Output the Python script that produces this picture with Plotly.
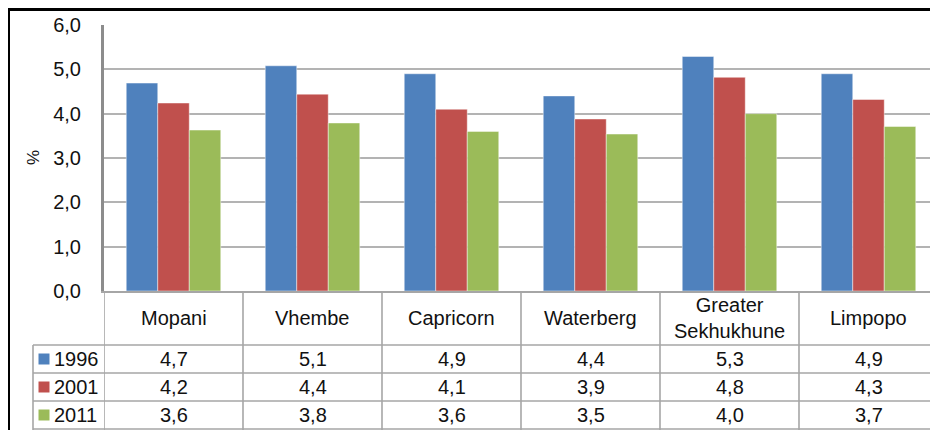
import plotly.graph_objects as go

categories = ["Mopani", "Vhembe", "Capricorn", "Waterberg", "Greater Sekhukhune", "Limpopo"]
header_labels = ["Mopani", "Vhembe", "Capricorn", "Waterberg", "Greater<br>Sekhukhune", "Limpopo"]
years = ["1996", "2001", "2011"]
values_1996 = [4.69, 5.08, 4.90, 4.40, 5.29, 4.90]
values_2001 = [4.24, 4.44, 4.10, 3.88, 4.82, 4.32]
values_2011 = [3.63, 3.79, 3.60, 3.54, 4.00, 3.71]
series = [values_1996, values_2001, values_2011]
colors = ["#4F81BD", "#C0504D", "#9BBB59"]

FONT = "Arial, Liberation Sans, sans-serif"
TXT = "#111111"

# the page body has an 8px margin; work in page pixel coordinates
OFF = 8
W, H = 938 - OFF, 430 - OFF
PL, PR, PT, PB = 104, 938, 25, 291          # plot area in page pixels
PW, PH = PR - PL, PB - PT

def px(x):
    return (x - PL) / PW

def py(y):
    return (PB - y) / PH

fig = go.Figure()
for yr, vals, col in zip(years, series, colors):
    fig.add_trace(go.Bar(
        x=categories, y=vals, name=yr,
        marker=dict(color=col, line=dict(color="rgba(255,255,255,0.45)", width=1)),
    ))

shapes = []
annotations = []
GRID = "#a6a6a6"

# table row lines
for ry in [345, 373, 401, 429]:
    shapes.append(dict(type="line", xref="paper", yref="paper",
                       x0=px(33), x1=1.0, y0=py(ry), y1=py(ry),
                       line=dict(color=GRID, width=1.6)))
# vertical lines at category boundaries
for i in range(len(categories)):
    shapes.append(dict(type="line", xref="x", yref="paper",
                       x0=i - 0.5, x1=i - 0.5, y0=0, y1=py(432),
                       line=dict(color=GRID, width=1.6)))
# row label column left edge
shapes.append(dict(type="line", xref="paper", yref="paper",
                   x0=px(33), x1=px(33), y0=py(345), y1=py(432),
                   line=dict(color=GRID, width=1.6)))

# header labels
for cat, lab in zip(categories, header_labels):
    annotations.append(dict(xref="x", yref="paper", x=cat, y=py(318),
                            text=lab, showarrow=False, xanchor="center", yanchor="middle",
                            font=dict(family=FONT, size=20, color=TXT)))

# table values + legend keys
row_centers = [359, 387, 415]
for r, (yr, vals, col) in enumerate(zip(years, series, colors)):
    yc = row_centers[r]
    for cat, v in zip(categories, vals):
        annotations.append(dict(xref="x", yref="paper", x=cat, y=py(yc),
                                text=f"{v:.1f}".replace(".", ","), showarrow=False,
                                xanchor="center", yanchor="middle",
                                font=dict(family=FONT, size=20, color=TXT)))
    shapes.append(dict(type="rect", xref="paper", yref="paper",
                       x0=px(38.5), x1=px(49.5), y0=py(yc - 5.5), y1=py(yc + 5.5),
                       fillcolor=col, line=dict(width=0)))
    annotations.append(dict(xref="paper", yref="paper", x=px(52), y=py(yc),
                            text=yr, showarrow=False, xanchor="left", yanchor="middle",
                            font=dict(family=FONT, size=20, color=TXT)))

# "%" axis title
annotations.append(dict(xref="paper", yref="paper", x=px(33), y=py(158),
                        text="%", showarrow=False, textangle=-90,
                        xanchor="center", yanchor="middle",
                        font=dict(family=FONT, size=17, color=TXT)))

# outer black frame (left and top)
shapes.append(dict(type="line", xref="paper", yref="paper",
                   x0=px(8.5), x1=px(8.5), y0=py(7), y1=py(440),
                   line=dict(color="#000000", width=3)))
shapes.append(dict(type="line", xref="paper", yref="paper",
                   x0=px(7), x1=px(945), y0=py(9.5), y1=py(9.5),
                   line=dict(color="#000000", width=3)))

fig.update_layout(
    width=W, height=H,
    margin=dict(l=PL - OFF, r=938 - PR, t=PT - OFF, b=430 - PB),
    paper_bgcolor="white", plot_bgcolor="white",
    barmode="group", bargap=0.32, bargroupgap=0,
    showlegend=False,
    separators=",.",
    font=dict(family=FONT, size=20, color=TXT),
    shapes=shapes, annotations=annotations,
    xaxis=dict(range=[-0.5, 5.5], showticklabels=False, ticks="",
               showline=True, linecolor=GRID, linewidth=2, showgrid=False,
               zeroline=False, fixedrange=True),
    yaxis=dict(range=[0, 6], dtick=1, tickformat=".1f",
               showline=True, linecolor="#8c8c8c", linewidth=3,
               showgrid=True, gridcolor="#b3b3b3", gridwidth=1.6,
               zeroline=False, ticks="", ticklabelstandoff=16,
               tickfont=dict(family=FONT, size=20, color=TXT),
               fixedrange=True),
)

fig.write_html("out.html")
